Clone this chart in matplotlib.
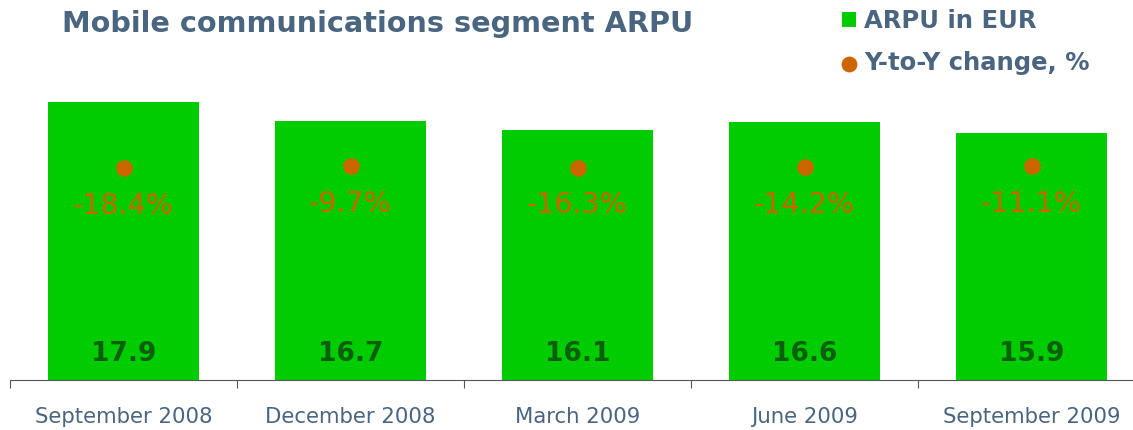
import matplotlib.pyplot as plt

periods = ["September 2008", "December 2008", "March 2009", "June 2009", "September 2009"]
arpu = [17.9, 16.7, 16.1, 16.6, 15.9]
yoy = [-18.4, -9.7, -16.3, -14.2, -11.1]

GREEN = "#00CC00"
DARKGREEN = "#0B5E0B"
ORANGE = "#CC6600"
SLATE = "#4A6580"

plt.rcParams["font.family"] = ["DejaVu Sans"]

fig = plt.figure(figsize=(11.33, 4.30), dpi=100)
ax = fig.add_axes([10 / 1133, 50 / 430, 1123 / 1133, 295 / 430])
x = list(range(len(periods)))

bars = ax.bar(x, arpu, width=0.665, color=GREEN, label="ARPU in EUR", zorder=2)
ax.set_xlim(-0.5, 4.447)
ax.set_ylim(0, 19)

for xi, v in zip(x, arpu):
    ax.text(xi, 1.7, f"{v:.1f}", ha="center", va="center", fontsize=19,
            fontweight="bold", color=DARKGREEN, zorder=3)

# secondary axis for the change dots
ax2 = ax.twinx()
ax2.set_ylim(-940, 343)
dots = ax2.scatter(x, yoy, s=120, color=ORANGE, zorder=4, label="Y-to-Y change, %")
for xi, v in zip(x, yoy):
    ax2.annotate(f"{v:.1f}%", (xi, v), xytext=(0, -27), textcoords="offset points",
                 ha="center", va="center", fontsize=20.5, color=ORANGE)

for a in (ax, ax2):
    for s in ("top", "right", "left"):
        a.spines[s].set_visible(False)
    a.set_yticks([])
ax.spines["bottom"].set_color("#555555")
ax2.spines["bottom"].set_visible(False)

ax.set_xticks([-0.5, 0.5, 1.5, 2.5, 3.5])
ax.set_xticklabels([])
ax.tick_params(axis="x", length=6, color="#555555")
for xi, p in zip(x, periods):
    ax.text(xi, -0.125, p, transform=ax.get_xaxis_transform(), ha="center", va="center",
            fontsize=15.3, color=SLATE)

fig.text(62 / 1133, 1 - 24 / 430, "Mobile communications segment ARPU", ha="left", va="center",
         fontsize=20.7, fontweight="bold", color=SLATE)

leg = fig.legend([bars, dots], ["ARPU in EUR", "Y-to-Y change, %"], loc="upper left",
                 bbox_to_anchor=(820 / 1133, 1.03), frameon=False,
                 handlelength=0.6, handleheight=0.6, handletextpad=0.3, labelspacing=0.75,
                 markerscale=0.95, prop={"weight": "bold", "size": 17.5}, labelcolor=SLATE)

fig.savefig("out.png", dpi=100)
